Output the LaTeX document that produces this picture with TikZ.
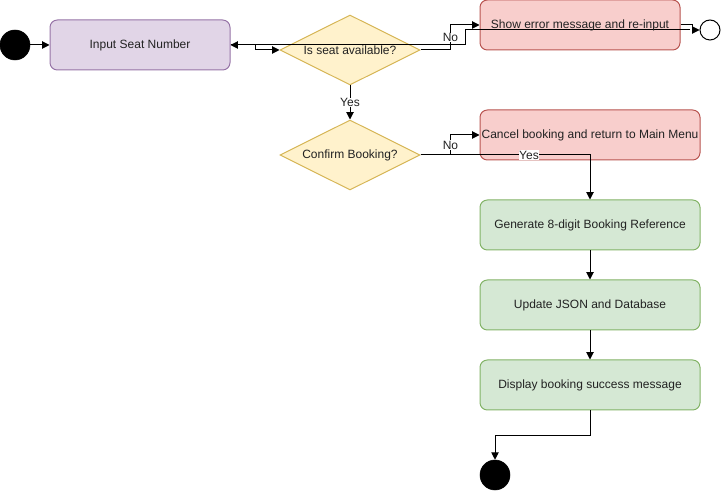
\documentclass[tikz,border=0pt]{standalone}
\usepackage{fontspec}
\setmainfont{Liberation Sans}
\usetikzlibrary{arrows.meta,shapes.geometric,calc}
\definecolor{pfill}{HTML}{E1D5E7}\definecolor{pdraw}{HTML}{9673A6}
\definecolor{yfill}{HTML}{FFF2CC}\definecolor{ydraw}{HTML}{D6B656}
\definecolor{rfill}{HTML}{F8CECC}\definecolor{rdraw}{HTML}{B85450}
\definecolor{gfill}{HTML}{D5E8D4}\definecolor{gdraw}{HTML}{82B366}
\definecolor{txt}{HTML}{222222}
\begin{document}
\begin{tikzpicture}[x=0.75pt,y=-0.75pt,
  every node/.style={font=\fontsize{9}{11}\selectfont, text=txt},
  act/.style={rectangle, rounded corners=5.5pt, line width=0.75pt, inner sep=0pt, minimum height=37.5pt},
  purplebox/.style={act, fill=pfill, draw=pdraw, minimum width=135pt},
  redbox/.style={act, fill=rfill, draw=rdraw},
  greenbox/.style={act, fill=gfill, draw=gdraw, minimum width=165pt},
  dec/.style={diamond, fill=yfill, draw=ydraw, line width=0.75pt, inner sep=0pt, minimum width=105pt, minimum height=52.5pt},
  arr/.style={draw=black, line width=0.75pt, -{Triangle[length=5.5pt,width=5.5pt]}},
  lbl/.style={fill=white, inner sep=0.5pt},
  startc/.style={circle, fill=black, draw=black, inner sep=0pt, minimum size=22.5pt},
  endo/.style={circle, fill=white, draw=black, line width=0.75pt, inner sep=0pt, minimum size=15pt}
]
\useasboundingbox (0,0) rectangle (721,491);

\node[startc] (start) at (15,45) {};
\node[purplebox] (input) at (140,45) {Input Seat Number};
\node[dec] (avail) at (350,50) {};
\node at (avail) {Is seat available?};
\node[redbox, minimum width=150pt] (error) at (580,25) {};
\node[endo] (endo) at (710,30) {};
\node[dec] (confirm) at (350,155) {};
\node at (confirm) {Confirm Booking?};
\node[redbox, minimum width=165pt] (cancel) at (590,135) {};
\node[greenbox] (gen) at (590,225) {Generate 8-digit Booking Reference};
\node[greenbox] (upd) at (590,305) {Update JSON and Database};
\node[greenbox] (disp) at (590,385) {Display booking success message};
\node[startc] (endf) at (495,475) {};
\coordinate (ret) at (690,30);

\draw[arr] (start) -- (input);
\draw[arr] (ret) -- ++(-225,0) |- (input.east);
\draw[arr] (input.east) -- ++(25,0) |- (avail.west);
\draw[arr] (avail.east) -- ++(30,0) |- node[pos=0.25,lbl]{No} (error.west);
\draw[arr] (error.east) -- ++(12,0) |- (endo.west);
\node at (error) {Show error message and re-input};
\draw[arr] (avail.south) -- node[lbl]{Yes} (confirm.north);
\draw[arr] (confirm.east) -- ++(30,0) |- node[pos=0.25,lbl]{No} (cancel.west);
\draw[arr] (confirm.east) -| node[pos=0.32,lbl]{Yes} (gen.north);
\node at (cancel) {Cancel booking and return to Main Menu};
\draw[arr] (gen) -- (upd);
\draw[arr] (upd) -- (disp);
\draw[arr] (disp.south) -- ++(0,25) -| (endf.north);
\end{tikzpicture}
\end{document}
